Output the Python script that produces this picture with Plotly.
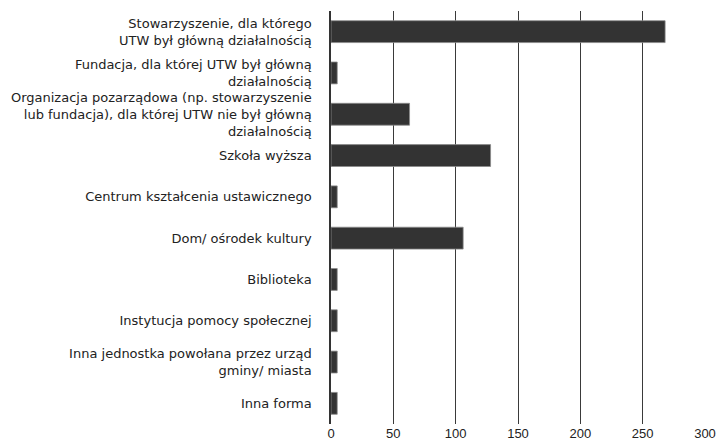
import plotly.graph_objects as go

categories = [
    "Stowarzyszenie, dla którego<br>UTW był główną działalnością",
    "Fundacja, dla której UTW był główną<br>działalnością",
    "Organizacja pozarządowa (np. stowarzyszenie<br>lub fundacja), dla której UTW nie był główną<br>działalnością",
    "Szkoła wyższa",
    "Centrum kształcenia ustawicznego",
    "Dom/ ośrodek kultury",
    "Biblioteka",
    "Instytucja pomocy społecznej",
    "Inna jednostka powołana przez urząd<br>gminy/ miasta",
    "Inna forma",
]
values = [268, 5, 63, 128, 5, 106, 5, 5, 5, 5]
x_ticks = [0, 50, 100, 150, 200, 250, 300]

fig = go.Figure(go.Bar(
    x=values, y=categories, orientation="h",
    marker=dict(color="#333333", line=dict(color="#8a8a8a", width=0.8)),
    width=0.53,
))

fig.update_layout(
    width=717, height=440,
    margin=dict(l=331, r=12, t=11, b=16, autoexpand=False),
    paper_bgcolor="white", plot_bgcolor="white",
    font=dict(family="Liberation Sans, Arial, sans-serif", size=13, color="#222222"),
    showlegend=False,
    bargap=0.47,
)
fig.update_xaxes(
    range=[0, 300], tickvals=x_ticks, showgrid=True, automargin=False,
    gridcolor="#3a3a3a", gridwidth=1.4, zeroline=False,
    showline=False, ticks="", tickfont=dict(size=13),
)
fig.update_yaxes(
    autorange="reversed", showline=True, linecolor="#333333", linewidth=1.5,
    automargin=False,
    tickfont=dict(family="DejaVu Sans, sans-serif", size=13, color="#222222"),
    ticks="outside", ticklen=15, tickcolor="rgba(0,0,0,0)", showgrid=False,
)
fig.write_html(
    "out.html",
    config={"displayModeBar": False},
    post_script="document.body.style.margin='0';document.body.style.overflow='hidden';",
)
